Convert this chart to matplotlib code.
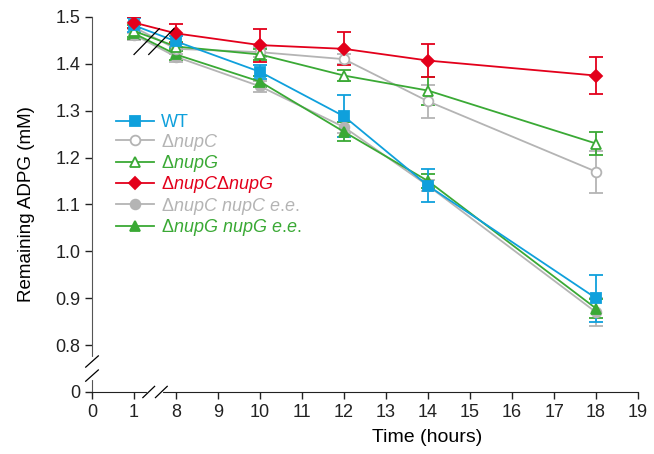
import matplotlib
matplotlib.use("Agg")
from matplotlib import pyplot as plt
from matplotlib.lines import Line2D

plt.rcParams['font.family'] = ['Liberation Sans', 'DejaVu Sans']
plt.rcParams['mathtext.fontset'] = 'custom'
plt.rcParams['mathtext.rm'] = 'Liberation Sans'
plt.rcParams['mathtext.it'] = 'Liberation Sans:italic'

# sampling times (hours)
times = [1, 8, 10, 12, 14, 18]

wt = [1.482, 1.448, 1.383, 1.288, 1.140, 0.900]
wt_err = [0.015, 0.012, 0.015, 0.045, 0.035, 0.050]

nupC = [1.478, 1.432, 1.425, 1.410, 1.320, 1.170]
nupC_err = [0.012, 0.010, 0.010, 0.010, 0.035, 0.045]

nupG = [1.470, 1.437, 1.420, 1.375, 1.343, 1.230]
nupG_err = [0.012, 0.010, 0.012, 0.012, 0.030, 0.025]

nupCG = [1.488, 1.465, 1.440, 1.432, 1.407, 1.375]
nupCG_err = [0.012, 0.020, 0.035, 0.035, 0.035, 0.040]

nupC_ee = [1.462, 1.415, 1.352, 1.265, 1.140, 0.870]
nupC_ee_err = [0.012, 0.012, 0.012, 0.012, 0.012, 0.030]

nupG_ee = [1.465, 1.420, 1.362, 1.255, 1.150, 0.878]
nupG_ee_err = [0.012, 0.012, 0.012, 0.020, 0.015, 0.020]

xtick_vals = [0, 1, 8, 9, 10, 11, 12, 13, 14, 15, 16, 17, 18, 19]

blue = '#0fa0dc'
gray = '#b4b4b4'
green = '#3aa935'
red = '#e3001b'

lab_wt = 'WT'
lab_c = r'$\Delta\mathit{nupC}$'
lab_g = r'$\Delta\mathit{nupG}$'
lab_cg = r'$\Delta\mathit{nupC}\Delta\mathit{nupG}$'
lab_cee = r'$\Delta\mathit{nupC\ nupC\ e}$.$\mathit{e}$.'
lab_gee = r'$\Delta\mathit{nupG\ nupG\ e}$.$\mathit{e}$.'


def xpos(t):
    # hours 2-7 are cut out of the axis
    return t if t <= 1 else t - 6


fig = plt.figure(figsize=(6.54, 4.54), dpi=100)
ax = fig.add_axes([0.1407, 0.1366, 0.835, 0.826])

xs = [xpos(t) for t in times]

series = [
    (nupC_ee, nupC_ee_err, gray, 'o', gray, lab_cee),
    (nupG_ee, nupG_ee_err, green, '^', green, lab_gee),
    (nupC, nupC_err, gray, 'o', 'white', lab_c),
    (nupG, nupG_err, green, '^', 'white', lab_g),
    (wt, wt_err, blue, 's', blue, lab_wt),
    (nupCG, nupCG_err, red, 'D', red, lab_cg),
]
handles = {}
for vals, err, col, mk, fc, lab in series:
    ms = 7 if mk != 'D' else 6.5
    ax.errorbar(xs, vals, yerr=err, color=col, marker=mk, mfc=fc, mec=col,
                ms=ms, mew=1.3, lw=1.3, capsize=5,
                elinewidth=1.3, capthick=1.3)
    handles[lab] = Line2D([], [], color=col, marker=mk, mfc=fc, mec=col,
                          ms=ms, mew=1.3, lw=1.3)

order = [lab_wt, lab_c, lab_g, lab_cg, lab_cee, lab_gee]
cols = [blue, gray, green, red, gray, green]
leg = ax.legend([handles[k] for k in order], order, loc='upper left',
                bbox_to_anchor=(0.03, 0.76), frameon=False, fontsize=13,
                handlelength=2.1, handletextpad=0.4, labelspacing=0.02,
                borderaxespad=0)
for txt, c in zip(leg.get_texts(), cols):
    txt.set_color(c)

ax.set_xlim(0, 13)
ax.set_ylim(0.7, 1.5)
ax.set_xticks([xpos(t) for t in xtick_vals])
ax.set_xticklabels([str(t) for t in xtick_vals])
ax.set_yticks([0.7, 0.8, 0.9, 1.0, 1.1, 1.2, 1.3, 1.4, 1.5])
ax.set_yticklabels(['0', '0.8', '0.9', '1.0', '1.1', '1.2', '1.3', '1.4', '1.5'])
ax.tick_params(labelsize=13, length=5, width=1, direction='out', colors='#222222')
ax.spines['top'].set_visible(False)
ax.spines['right'].set_visible(False)
ax.spines['left'].set_color('#555555')
ax.spines['bottom'].set_color('#222222')

ax.set_xlabel('Time (hours)', fontsize=14, labelpad=10)
ax.xaxis.set_label_coords(0.614, -0.1)
ax.set_ylabel('Remaining ADPG (mM)', fontsize=13.5)
ax.yaxis.set_label_coords(-0.105, 0.5)

# axis breaks
ax.plot([0, 0], [0.73, 0.77], color='white', lw=3, clip_on=False, zorder=5)
for yb in [0.735, 0.765]:
    ax.plot([-0.15, 0.15], [yb - 0.012, yb + 0.012], color='black', lw=0.9,
            clip_on=False, zorder=6)
ax.plot([1.35, 1.65], [0.7, 0.7], color='white', lw=3, clip_on=False, zorder=5)
for xb in [1.35, 1.65]:
    ax.plot([xb - 0.14, xb + 0.14], [0.688, 0.712], color='black', lw=0.9,
            clip_on=False, zorder=6)
# break across the data lines
for xb in [1.3, 1.65]:
    ax.plot([xb - 0.3, xb + 0.3], [1.42, 1.475], color='black', lw=0.9, zorder=6)

fig.savefig('out.png', dpi=100)
